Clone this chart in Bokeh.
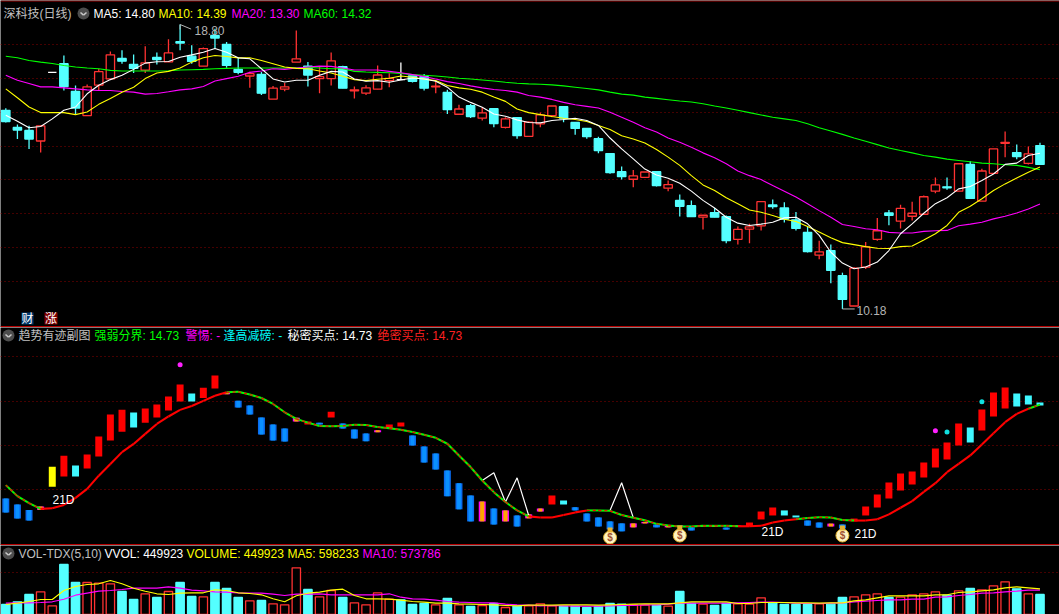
from bokeh.plotting import figure
from bokeh.layouts import column
from bokeh.models import Range1d, FixedTicker, Label, Span
from bokeh.embed import file_html
from bokeh.resources import INLINE
from bokeh.core.properties import value

# ---------- candle data (price) ----------
opens = [16.20,15.68,15.59,15.27,17.35,17.61,16.77,16.04,16.96,17.15,17.77,17.59,17.42,17.80,17.67,18.28,17.84,17.54,18.47,18.20,
         17.44,17.24,17.29,16.54,16.84,17.66,17.54,17.16,17.16,17.52,16.79,16.72,16.84,17.10,17.13,17.24,17.22,16.91,16.74,16.08,
         16.34,15.96,16.25,15.68,15.98,15.41,15.79,16.04,16.31,15.83,15.65,15.34,14.89,14.34,14.11,14.17,14.34,13.84,13.47,13.31,
         12.96,13.10,12.98,12.29,12.60,12.70,13.33,13.24,12.88,12.50,11.81,11.95,11.19,10.27,11.45,12.29,13.09,12.84,12.99,13.05,
         13.75,13.88,13.75,14.56,13.45,14.29,15.20,14.92,14.59,15.13]
closes = [15.86,15.60,15.33,15.73,17.35,16.92,16.27,16.91,17.37,17.88,17.69,17.47,17.64,17.74,17.94,18.24,17.68,18.07,18.39,17.56,
          17.35,17.31,16.72,16.87,16.91,17.76,17.27,17.22,17.70,16.87,16.82,16.88,17.27,17.17,17.13,17.08,16.87,16.93,16.22,16.24,
          16.01,16.12,15.80,15.94,15.43,15.84,16.06,16.33,15.96,15.65,15.40,14.98,14.31,14.19,14.21,14.33,13.92,13.95,13.29,12.98,
          13.02,12.96,12.25,12.59,12.67,13.43,13.28,12.90,12.62,11.92,11.91,11.35,10.47,11.42,12.06,12.55,13.02,13.23,13.08,13.58,
          13.94,13.85,14.58,13.53,14.36,15.03,15.23,14.80,14.88,14.56]
highs = [16.26,15.77,15.73,15.73,17.35,17.86,16.95,16.98,17.46,17.98,18.02,17.89,18.14,17.95,18.35,18.80,18.17,18.10,18.67,18.27,
         17.79,17.37,17.36,16.94,17.03,18.62,17.66,17.51,17.95,17.55,16.92,16.96,17.56,17.32,17.65,17.24,17.30,17.08,16.82,16.37,
         16.39,16.29,16.27,15.99,15.98,15.86,16.13,16.33,16.31,15.83,15.65,15.40,14.89,14.50,14.39,14.33,14.34,14.07,13.65,13.47,
         13.02,13.24,13.01,12.68,12.76,13.43,13.50,13.41,13.12,12.68,12.25,12.13,11.28,11.45,12.21,12.94,13.18,13.34,13.43,13.62,
         14.16,14.16,14.58,14.66,14.43,15.03,15.56,15.16,15.10,15.22]
lows = [15.83,15.33,15.03,14.92,17.35,16.80,16.08,16.04,16.80,17.15,17.61,17.33,17.33,17.59,17.67,18.02,17.61,17.54,18.07,17.49,
        17.29,16.88,16.66,16.54,16.78,17.66,16.92,16.72,16.95,16.87,16.56,16.66,16.84,16.90,17.12,17.04,16.80,16.72,16.09,16.08,
        15.97,15.89,15.69,15.65,15.34,15.41,15.69,15.99,15.84,15.46,15.34,14.90,14.28,14.10,13.87,14.15,13.89,13.75,12.98,12.98,
        12.59,12.96,12.17,12.13,12.17,12.56,13.22,12.80,12.56,11.89,11.69,10.96,10.18,10.27,11.39,12.25,12.72,12.62,12.86,13.05,
        13.69,13.79,13.75,13.51,13.45,14.27,14.78,14.72,14.56,14.56]

ma5 = [16.05,15.87,15.67,15.71,15.94,16.20,16.30,16.70,16.96,17.13,17.26,17.44,17.63,17.67,17.68,17.81,17.88,17.96,18.07,17.96,
       17.79,17.76,17.46,17.15,17.06,17.11,17.11,17.26,17.38,17.36,17.15,17.08,17.10,17.05,17.12,17.18,17.15,17.08,16.90,16.60,
       16.44,16.29,16.09,16.02,15.91,15.83,15.82,15.89,15.92,15.96,15.89,15.74,15.36,15.03,14.73,14.42,14.24,14.14,13.99,13.75,
       13.47,13.24,12.96,12.78,12.71,12.75,12.81,12.94,12.96,12.76,12.41,11.90,11.57,11.40,11.45,11.60,11.95,12.46,12.76,13.08,
       13.37,13.55,13.82,13.89,14.07,14.27,14.56,14.60,14.83,14.90]
ma10 = [16.85,16.58,16.30,16.13,16.13,16.13,16.07,16.15,16.38,16.56,16.75,16.90,17.16,17.33,17.38,17.48,17.66,17.79,17.86,17.83,
        17.79,17.79,17.71,17.61,17.51,17.47,17.46,17.39,17.33,17.23,17.13,17.10,17.14,17.17,17.24,17.20,17.15,17.10,16.95,16.88,
        16.84,16.75,16.60,16.47,16.24,16.13,16.07,16.01,15.96,15.92,15.86,15.74,15.62,15.43,15.33,15.21,15.01,14.78,14.53,14.22,
        13.94,13.77,13.55,13.37,13.18,13.11,13.01,12.90,12.83,12.68,12.51,12.34,12.19,12.13,12.07,12.02,12.01,12.07,12.09,12.27,
        12.46,12.71,13.11,13.29,13.52,13.77,13.97,14.15,14.32,14.48]
ma20 = [17.26,17.11,17.01,16.91,16.91,16.88,16.85,16.82,16.80,16.80,16.77,16.75,16.69,16.71,16.76,16.82,16.85,16.92,17.09,17.16,
        17.23,17.35,17.39,17.46,17.44,17.48,17.51,17.54,17.53,17.48,17.42,17.42,17.42,17.38,17.34,17.28,17.22,17.15,17.07,17.01,
        16.94,16.88,16.83,16.80,16.75,16.65,16.60,16.53,16.44,16.37,16.32,16.27,16.14,15.99,15.84,15.67,15.54,15.36,15.23,15.08,
        14.91,14.76,14.58,14.36,14.22,14.10,13.92,13.75,13.57,13.37,13.16,12.96,12.74,12.68,12.61,12.58,12.50,12.48,12.48,12.53,
        12.55,12.56,12.70,12.75,12.81,12.91,12.99,13.09,13.21,13.36]
ma60 = [17.84,17.79,17.71,17.66,17.62,17.56,17.51,17.48,17.46,17.41,17.39,17.39,17.39,17.39,17.40,17.42,17.43,17.44,17.46,17.47,
        17.48,17.48,17.48,17.48,17.48,17.49,17.50,17.48,17.46,17.46,17.38,17.36,17.35,17.34,17.32,17.28,17.26,17.24,17.21,17.17,
        17.15,17.12,17.09,17.05,17.02,17.00,16.99,16.97,16.94,16.90,16.86,16.82,16.75,16.69,16.66,16.60,16.56,16.52,16.48,16.45,
        16.40,16.33,16.27,16.20,16.13,16.06,15.99,15.94,15.89,15.79,15.67,15.57,15.47,15.36,15.26,15.16,15.06,14.98,14.91,14.83,
        14.78,14.72,14.68,14.64,14.60,14.58,14.55,14.53,14.47,14.40]
price_grid = [18.185,17.155,16.125,15.095,14.09,13.06,12.03,11.00]

# ---------- indicator panel ----------
trend = [11.02,10.52,10.20,9.94,9.97,10.12,10.44,10.85,11.45,11.98,12.52,12.89,13.35,13.80,14.14,14.44,14.62,14.85,15.08,15.24,
         15.26,15.14,14.98,14.71,14.33,14.03,13.86,13.71,13.70,13.71,13.76,13.75,13.66,13.60,13.54,13.43,13.31,13.17,12.90,12.37,
         11.84,11.23,10.70,10.25,9.87,9.60,9.55,9.55,9.66,9.78,9.87,9.87,9.85,9.66,9.54,9.42,9.26,9.19,9.14,9.14,
         9.17,9.17,9.17,9.15,9.15,9.17,9.32,9.41,9.47,9.52,9.56,9.55,9.43,9.41,9.41,9.47,9.69,9.99,10.29,10.71,
         11.11,11.61,11.99,12.37,12.87,13.38,13.88,14.26,14.49,14.68]
trend_state = "GGG" + "R"*16 + "G"*26 + "R"*5 + "G"*13 + "R"*5 + "G"*5 + "R"*15 + "GG"
block_top = [10.41,10.14,9.89,10.05,11.86,12.36,11.91,12.41,13.23,14.23,14.45,14.32,14.50,14.68,15.05,15.59,15.18,15.45,16.00,15.21,
             14.86,14.64,14.09,13.77,13.59,14.08,13.91,13.86,14.36,13.82,13.55,13.37,13.51,13.78,13.87,13.28,12.78,12.46,11.69,11.10,
             10.55,10.28,9.96,9.87,9.64,9.69,9.96,10.55,10.32,10.01,9.73,9.55,9.37,9.28,9.28,9.35,9.23,9.17,9.19,9.10,
             9.18,9.18,9.09,9.18,9.32,9.82,10.00,9.87,9.64,9.41,9.32,9.27,9.23,9.50,10.05,10.59,11.14,11.55,11.64,12.05,
             12.68,12.96,13.82,13.64,14.46,15.23,15.46,15.18,15.09,14.78]
block_bot = [9.77,9.50,9.41,9.89,10.95,11.41,11.41,11.77,12.32,13.05,13.45,13.64,13.86,14.09,14.41,14.82,14.82,14.98,15.41,15.15,
             14.55,14.23,13.32,13.05,13.00,13.91,13.77,13.77,14.09,13.59,13.14,13.01,13.42,13.60,13.69,12.82,12.05,11.73,10.51,9.92,
             9.37,9.37,9.23,9.37,9.14,9.51,9.82,10.14,10.14,9.87,9.37,9.14,9.01,8.92,9.10,9.28,9.10,9.10,9.13,8.96,
             9.14,9.12,9.00,9.12,9.14,9.46,9.64,9.64,9.55,9.18,9.09,9.14,9.05,9.37,9.64,10.00,10.41,10.78,11.05,11.37,
             11.82,12.18,12.82,12.96,13.50,14.14,14.50,14.59,14.68,14.64]
block_kind = ("bbboyrcrrrrcrrrrcrrobbbbborbrb"
              "bborrbbbbbbobobo" "orcbbbbboobOOb".replace("O", "o")
              + "oobo" + "rrr" + "cc" + "bb" + "o" + "b" + "r"*10 + "c" + "rrr" + "ccc")
zig_a_x = [41, 42, 43, 44, 45]
zig_a_y = [11.23, 11.58, 10.25, 11.35, 9.64]
zig_b_x = [52, 53, 54]
zig_b_y = [9.87, 11.13, 9.54]
dot_m_x, dot_m_y = [15, 80], [16.49, 13.49]
dot_c_x, dot_c_y = [81, 84], [13.44, 14.81]
bag_x = [52, 58, 72]
bag_y = [8.64, 8.73, 8.73]
mid_grid = [16.85, 14.84, 12.83, 10.82]

# ---------- volume panel ----------
vol = [225000,285000,450000,510000,195000,1125000,720000,720000,705000,690000,517500,337500,465000,382500,517500,720000,405000,397500,720000,585000,
       382500,307500,315000,240000,217500,1050000,562500,397500,540000,382500,262500,217500,487500,345000,330000,225000,247500,217500,360000,217500,
       180000,202500,247500,157500,187500,195000,240000,195000,180000,187500,157500,180000,247500,232500,217500,210000,202500,187500,517500,247500,
       232500,202500,247500,240000,232500,375000,255000,225000,225000,225000,240000,232500,382500,397500,442500,465000,382500,390000,442500,465000,
       510000,435000,532500,585000,555000,645000,735000,577500,465000,449923]
vol_kind = ("cccrrccrrrccrcrccrcccrcrrrcrrc"
            "rrrrcccrcrcrcrcrrrccccccrrcrcc"
            "rccrrrccccrccrrrcrrrrcrcrrrcrc")
vol_ma5 = [225000,255000,292500,337500,337500,540000,630000,675000,690000,765000,690000,592500,525000,465000,450000,480000,487500,487500,555000,540000,
           487500,472500,442500,352500,285000,420000,480000,502500,547500,570000,427500,352500,352500,345000,322500,292500,277500,255000,255000,240000,
           232500,225000,217500,202500,195000,210000,210000,210000,217500,217500,217500,210000,217500,225000,232500,240000,240000,240000,262500,285000,
           285000,285000,285000,247500,247500,270000,270000,270000,262500,262500,255000,262500,262500,307500,330000,375000,420000,420000,420000,420000,
           442500,442500,495000,510000,532500,555000,600000,622500,600000,577500]
vol_ma10 = [255000,262500,262500,270000,285000,345000,435000,480000,525000,540000,562500,592500,592500,592500,622500,592500,547500,532500,510000,502500,
            487500,480000,480000,457500,427500,457500,457500,465000,442500,442500,442500,442500,442500,465000,390000,352500,345000,322500,292500,277500,
            270000,262500,262500,232500,217500,210000,195000,202500,195000,187500,187500,187500,195000,202500,202500,217500,217500,232500,255000,255000,
            255000,255000,255000,262500,270000,277500,277500,270000,255000,247500,247500,255000,262500,285000,300000,315000,330000,330000,345000,345000,
            390000,397500,427500,450000,480000,487500,510000,525000,547500,547500]
vol_grid = [937500]

# ---------- layout helpers ----------
W = 1059
H1, H2, H3 = 327, 218, 69
dx = 11.62
x_of = lambda px: (px - 5.3) / dx
y1 = lambda py: 18.8 - (py - 24) / 33
y2 = lambda py: 14.73 + (403 - py) / 22
y3 = lambda py: (614 - py) * 22500
xr = Range1d(x_of(0), x_of(W))
idx = list(range(90))
FONT = "Liberation Sans, Noto Sans CJK SC"


def panel(height, ymin, ymax, grid):
    p = figure(width=W, height=height, x_range=xr, y_range=Range1d(ymin, ymax),
               output_backend="svg", toolbar_location=None, min_border=0,
               background_fill_color="#000000", border_fill_color="#000000")
    p.outline_line_color = None
    p.xaxis.visible = False
    p.yaxis.visible = False
    p.xgrid.visible = False
    p.ygrid.ticker = FixedTicker(ticks=grid)
    p.ygrid.grid_line_color = "#8a0000"
    p.ygrid.grid_line_dash = "1 3"
    p.ygrid.grid_line_width = 1
    return p


def text(p, panel_top, panel_h, px, py, s, color, size=12, align="left"):
    p.add_layout(Label(x=px, y=panel_h - (py - panel_top), x_units="screen", y_units="screen",
                       text=s, text_color=color, text_font=FONT, text_font_size=f"{size}px",
                       text_baseline="middle", text_align=align))


def icon(p, ym, px, py):
    yc = ym(py)
    d = ym(py) - ym(py + 2)
    p.scatter([x_of(px)], [yc], marker="circle", size=12, fill_color="#4d4d4d", line_color=None)
    p.segment([x_of(px - 3), x_of(px)], [yc + d * 0.5, yc - d * 0.8],
              [x_of(px), x_of(px + 3)], [yc - d * 0.8, yc + d * 0.5], line_color="#c8c8c8", line_width=1.5)


# ---------- top panel ----------
p1 = panel(H1, y1(H1), y1(0), price_grid)
RED, CYAN = "#ff3232", "#54ffff"
cols = [RED if c > o else CYAN if c < o else "#ffffff" for o, c in zip(opens, closes)]
fills = ["#000000" if c > o else CYAN if c < o else "#ffffff" for o, c in zip(opens, closes)]
tops = [max(o, c) for o, c in zip(opens, closes)]
bots = [min(o, c) for o, c in zip(opens, closes)]
p1.segment(idx, highs, idx, lows, line_color=cols, line_width=1.3)
p1.vbar(x=idx, top=tops, bottom=bots, width=0.72, fill_color=fills, line_color=cols, line_width=1.3)
for s, c in ((ma60, "#00ff00"), (ma20, "#ff00ff"), (ma10, "#ffff00"), (ma5, "#ffffff")):
    p1.line(idx, s, line_color=c, line_width=1.1)
p1.segment([15, 15], [18.80, 18.80], [15, 15.95], [18.65, 18.66], line_color="#b4b4b4", line_width=1)
p1.segment([72], [10.18], [73.05], [10.18], line_color="#b4b4b4", line_width=1)
text(p1, 0, H1, 194, 30, "18.80", "#b4b4b4")
text(p1, 0, H1, 856, 309.5, "10.18", "#b4b4b4")
text(p1, 0, H1, 3, 13, "深科技(日线)", "#c0c0c0")
icon(p1, y1, 83, 13)
text(p1, 0, H1, 93, 13, "MA5: 14.80", "#ffffff")
text(p1, 0, H1, 158, 13, "MA10: 14.39", "#ffff00")
text(p1, 0, H1, 231, 13, "MA20: 13.30", "#ff00ff")
text(p1, 0, H1, 303, 13, "MA60: 14.32", "#00ff00")
p1.quad(left=[x_of(21), x_of(44)], right=[x_of(33), x_of(57)], top=[y1(312), y1(312)], bottom=[y1(324), y1(324)],
        fill_color=["#003a70", "#800000"], line_color=None)
text(p1, 0, H1, 27, 318, "财", "#ffffff", 12, "center")
text(p1, 0, H1, 50.5, 318, "涨", "#ffffff", 12, "center")
p1.add_layout(Span(location=y1(0.5), dimension="width", line_color="#a00000", line_width=1))
p1.add_layout(Span(location=y1(326.2), dimension="width", line_color="#b80000", line_width=1.3))

# ---------- indicator panel ----------
p2 = panel(H2, y2(545), y2(327), mid_grid)
kind_color = {"b": "#0a6cf0", "r": "#ff0000", "c": "#40f8ff", "y": "#ffff00", "o": "#ff00ff"}
p2.vbar(x=idx, top=block_top, bottom=block_bot, width=0.6,
        fill_color=[kind_color[k] for k in block_kind], line_color=None)
ix_o = [i for i in idx if block_kind[i] == "o"]
p2.vbar(x=ix_o, top=[block_top[i] for i in ix_o], bottom=[block_bot[i] for i in ix_o], width=0.36,
        fill_color="#ffa500", line_color=None)
ix_b = [i for i in idx if block_kind[i] == "b"]
p2.vbar(x=ix_b, top=[block_top[i] for i in ix_b], bottom=[block_bot[i] for i in ix_b], width=0.34,
        fill_color="#0a90ff", line_color=None)
p2.line(zig_a_x, zig_a_y, line_color="#ffffff", line_width=1.2)
p2.line(zig_b_x, zig_b_y, line_color="#ffffff", line_width=1.2)
seg_g = [i for i in idx[:-1] if trend_state[i] == "G"]
seg_r = [i for i in idx[:-1] if trend_state[i] == "R"]
p2.segment(seg_r, [trend[i] for i in seg_r], [i + 1 for i in seg_r], [trend[i + 1] for i in seg_r],
           line_color="#ff0000", line_width=2.1)
p2.segment(seg_g, [trend[i] for i in seg_g], [i + 1 for i in seg_g], [trend[i + 1] for i in seg_g],
           line_color="#00ff00", line_width=2)
p2.segment(seg_g, [trend[i] for i in seg_g], [i + 1 for i in seg_g], [trend[i + 1] for i in seg_g],
           line_color="#ff0000", line_width=1.2, line_dash="3 3")
p2.scatter(dot_m_x, dot_m_y, marker="circle", size=5, fill_color="#ff20ff", line_color=None)
p2.scatter(dot_c_x, dot_c_y, marker="circle", size=5, fill_color="#10e0e0", line_color=None)
neck = [y + 0.34 for y in bag_y]
p2.scatter(bag_x, bag_y, marker="circle", size=13, fill_color="#fff4c0", line_color="#e0b030", line_width=1)
p2.scatter(bag_x, neck, marker="square", size=5, fill_color="#e8b030", line_color=None)
p2.text(bag_x, bag_y, text=["$"] * 3, text_color="#a05030", text_font=value("Liberation Sans"),
        text_font_style="bold", text_font_size="10px", text_align="center", text_baseline="middle")
text(p2, 327, H2, 52, 499, "21D", "#ffffff")
text(p2, 327, H2, 761, 531, "21D", "#ffffff")
text(p2, 327, H2, 854, 533, "21D", "#ffffff")
icon(p2, y2, 8, 335)
text(p2, 327, H2, 18, 335, "趋势有迹副图", "#c0c0c0")
text(p2, 327, H2, 94, 335, "强弱分界: 14.73", "#00ff00")
text(p2, 327, H2, 185, 335, "警惕: -", "#ff00ff")
text(p2, 327, H2, 223, 335, "逢高减磅: -", "#00ffff")
text(p2, 327, H2, 287, 335, "秘密买点: 14.73", "#ffffff")
text(p2, 327, H2, 377, 335, "绝密买点: 14.73", "#ff2020")
p2.add_layout(Span(location=y2(544.2), dimension="width", line_color="#b80000", line_width=1.3))

# ---------- volume panel ----------
p3 = panel(H3, y3(614), y3(545), vol_grid)
vcol = [RED if k == "r" else CYAN for k in vol_kind]
vfill = ["#000000" if k == "r" else CYAN for k in vol_kind]
p3.vbar(x=idx, top=vol, bottom=-100000, width=0.72, fill_color=vfill, line_color=vcol, line_width=1.3)
p3.line(idx, vol_ma10, line_color="#ff00ff", line_width=1.1)
p3.line(idx, vol_ma5, line_color="#ffff00", line_width=1.1)
icon(p3, y3, 8, 553)
text(p3, 545, H3, 18, 553, "VOL-TDX(5,10)", "#c0c0c0")
text(p3, 545, H3, 104, 553, "VVOL: 449923", "#ffffff")
text(p3, 545, H3, 186, 553, "VOLUME: 449923", "#ffff00")
text(p3, 545, H3, 287, 553, "MA5: 598233", "#ffff00")
text(p3, 545, H3, 362, 553, "MA10: 573786", "#ff00ff")

page = column(p1, p2, p3, spacing=0, styles={"position": "absolute", "left": "0px", "top": "0px"})
open("out.html", "w").write(file_html(page, INLINE))
